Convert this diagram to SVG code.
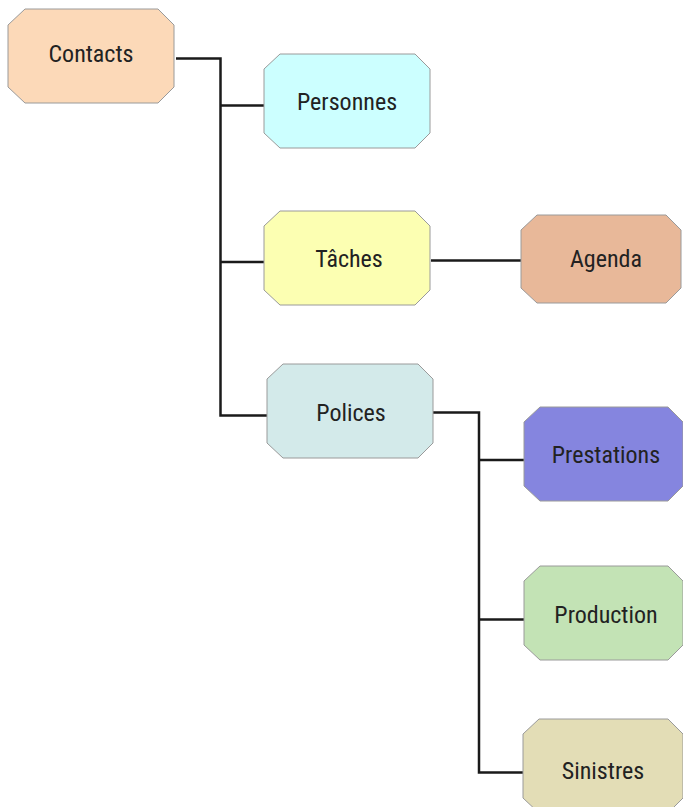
<svg xmlns="http://www.w3.org/2000/svg" width="683" height="807" viewBox="0 0 683 807">
<style>
.n{stroke:#9a9a9a;stroke-width:1}
.t{font-family:"Liberation Sans Narrow","Roboto Condensed","Arial Narrow","Liberation Sans",sans-serif;font-size:24px;fill:#222;text-anchor:middle}
.c{fill:none;stroke:#1a1a1a;stroke-width:2.5}
</style>
<rect width="683" height="807" fill="#fff"/>
<g id="connectors">
<path class="c" d="M176 58.5H220.5V415.5H267"/>
<path class="c" d="M220.5 105.5H264"/>
<path class="c" d="M220.5 262H264"/>
<path class="c" d="M431 260.5H521"/>
<path class="c" d="M433 412.5H479V772.5H523"/>
<path class="c" d="M479 460H524"/>
<path class="c" d="M479 619.5H524"/>
</g>
<g id="contacts"><polygon class="n" fill="#FCD9B8" points="25,9 158,9 174,25 174,87 158,103 25,103 8,87 8,25"/><text class="t" x="91" y="62">Contacts</text></g>
<g id="personnes"><polygon class="n" fill="#CCFFFF" points="280,54 415,54 430,69 430,133 415,148 280,148 264,133 264,69"/><text class="t" x="347" y="110">Personnes</text></g>
<g id="taches"><polygon class="n" fill="#FCFFB2" points="280,211 415,211 430,226 430,290 415,305 280,305 264,290 264,226"/><text class="t" x="349" y="267">Tâches</text></g>
<g id="agenda"><polygon class="n" fill="#E8B899" points="537,215 666,215 681,230 681,288 666,303 537,303 521,288 521,230"/><text class="t" x="606" y="267">Agenda</text></g>
<g id="polices"><polygon class="n" fill="#D3EAEA" points="283,364 418,364 433,379 433,443 418,458 283,458 267,443 267,379"/><text class="t" x="351" y="421">Polices</text></g>
<g id="prestations"><polygon class="n" fill="#8585DF" points="540,407 668,407 683,422 683,486 668,501 540,501 524,486 524,422"/><text class="t" x="606" y="463">Prestations</text></g>
<g id="production"><polygon class="n" fill="#C3E3B5" points="540,566 668,566 683,581 683,645 668,660 540,660 524,645 524,581"/><text class="t" x="606" y="623">Production</text></g>
<g id="sinistres"><polygon class="n" fill="#E3DDB6" points="539,719 668,719 683,734 683,798 668,813 539,813 523,798 523,734"/><text class="t" x="603" y="779">Sinistres</text></g>
</svg>
